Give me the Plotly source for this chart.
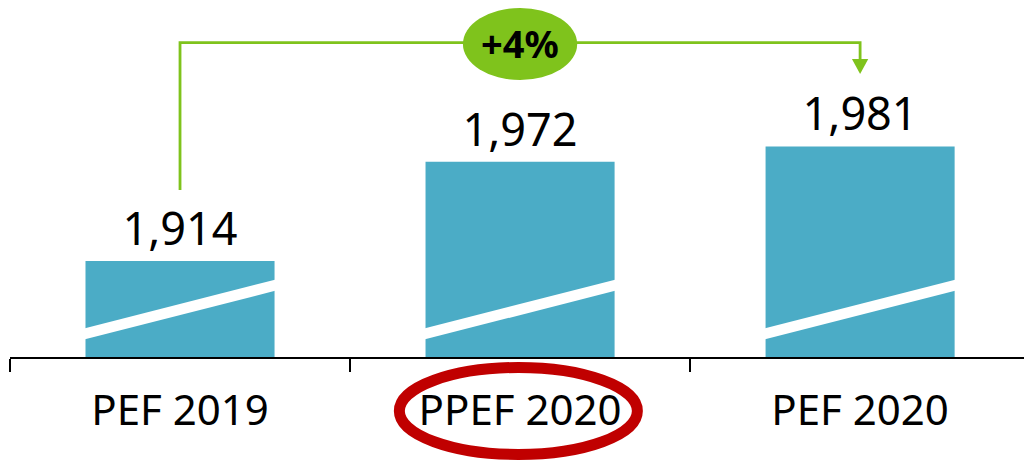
import plotly.graph_objects as go

# ---- data ----
CATEGORIES = ["PEF 2019", "PPEF 2020", "PEF 2020"]
VALUES = [1914, 1972, 1981]
CHANGE_LABEL = "+4%"
HIGHLIGHT_INDEX = 1

# ---- style ----
BAR_COLOR = "#4BACC6"
GREEN = "#7FC31C"
RED = "#C00000"
FONT = "Noto Sans"
Y_MIN, Y_MAX = 1858, 2066.5
BAR_W = 0.556

fig = go.Figure()
fig.add_trace(go.Bar(
    x=CATEGORIES, y=VALUES, width=BAR_W,
    marker=dict(color=BAR_COLOR, line=dict(width=0)),
    texttemplate="%{y:,}", textposition="outside",
    outsidetextfont=dict(family=FONT, size=45, color="black"),
    cliponaxis=False, hoverinfo="skip",
))

shapes = []
# white diagonal "axis break" stripe across each bar
b_lo_l, b_hi_l, b_lo_r, b_hi_r = 9.9, 16.4, 39.1, 45.6
for i in range(len(CATEGORIES)):
    x0, x1 = i - BAR_W / 2 - 0.01, i + BAR_W / 2 + 0.01
    path = (f"M {x0},{Y_MIN + b_lo_l} L {x0},{Y_MIN + b_hi_l} "
            f"L {x1},{Y_MIN + b_hi_r} L {x1},{Y_MIN + b_lo_r} Z")
    shapes.append(dict(type="path", path=path, xref="x", yref="y",
                       fillcolor="white", line=dict(width=0), layer="above"))

# green connector from first to last bar
y_line, y_start, y_head_top, y_tip = 2041.6, 1955.5, 2032.0, 2023.3
last = len(CATEGORIES) - 1
shapes.append(dict(type="path", xref="x", yref="y",
                   path=f"M 0,{y_start} L 0,{y_line} L {last},{y_line} L {last},{y_head_top}",
                   line=dict(color=GREEN, width=2.8), layer="above"))
hw = 0.024
shapes.append(dict(type="path", xref="x", yref="y",
                   path=f"M {last - hw},{y_head_top} L {last + hw},{y_head_top} L {last},{y_tip} Z",
                   fillcolor=GREEN, line=dict(width=0), layer="above"))
mid = (len(CATEGORIES) - 1) / 2
shapes.append(dict(type="circle", xref="x", yref="y",
                   x0=mid - 0.168, x1=mid + 0.168, y0=2019.8, y1=2061.8,
                   fillcolor=GREEN, line=dict(width=0), layer="above"))

# red highlight ellipse around the category label
shapes.append(dict(type="circle", xref="x", yref="paper",
                   x0=HIGHLIGHT_INDEX - 0.355, x1=HIGHLIGHT_INDEX + 0.345,
                   y0=-0.273, y1=-0.0294,
                   line=dict(color=RED, width=11), layer="above"))

fig.update_layout(
    width=1024, height=464,
    margin=dict(l=10, r=0, t=0, b=107, pad=0),
    paper_bgcolor="white", plot_bgcolor="white",
    showlegend=False, shapes=shapes,
    annotations=[dict(x=mid, y=2041.6, xref="x", yref="y", text=f"<b>{CHANGE_LABEL}</b>",
                      showarrow=False, font=dict(family=FONT, size=38, color="black"))],
    xaxis=dict(type="category", categoryorder="array", categoryarray=CATEGORIES,
               range=[-0.5, 2.482], showline=True, linecolor="black", linewidth=2,
               ticks="outside", tickson="boundaries", ticklen=13, tickwidth=2,
               tickcolor="black", showgrid=False, zeroline=False,
               tickfont=dict(family=FONT, size=42, color="black"),
               ticklabelstandoff=16,
               automargin=False, fixedrange=True),
    yaxis=dict(range=[Y_MIN, Y_MAX], visible=False, showgrid=False,
               zeroline=False, automargin=False, fixedrange=True),
)
fig.write_html("out.html", config={"displayModeBar": False},
               post_script="document.body.style.margin='0';document.body.style.overflow='hidden';")
